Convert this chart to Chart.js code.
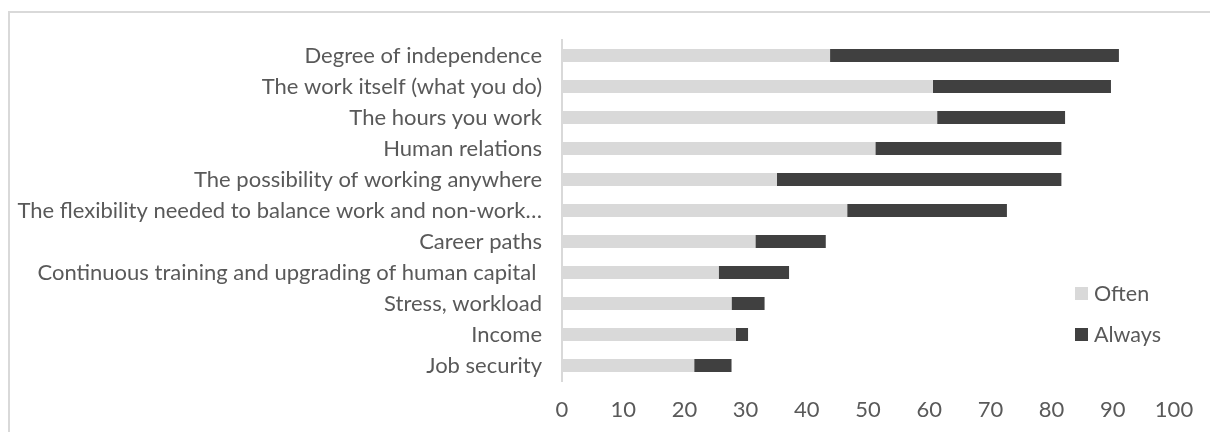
<!DOCTYPE html>
<html>
<head>
<meta charset="utf-8">
<script src="https://cdn.jsdelivr.net/npm/chart.js@4.4.1/dist/chart.umd.min.js"></script>
<style>
  html, body { margin: 0; padding: 0; background: #fff; }
  body { width: 1210px; height: 432px; overflow: hidden; position: relative; }
  #frame { position: absolute; left: 8px; top: 11px; width: 1300px; height: 500px;
           border-top: 2px solid #d9d9d9; border-left: 2px solid #d9d9d9; box-sizing: border-box; }
  #wrap { position: absolute; left: 0; top: 0; width: 1210px; height: 432px; }
  #legend { position: absolute; left: 1075px; top: 281px; font-family: Lato, sans-serif;
            font-size: 21.5px; color: #595959; }
  #legend div { display: flex; align-items: center; height: 24px; margin-bottom: 17px; }
  #legend span.sw { display: inline-block; width: 13px; height: 13px; margin-right: 6px; }
</style>
</head>
<body>
<div id="frame"></div>
<div id="wrap"><canvas id="c" width="1210" height="432"></canvas></div>
<div id="legend"></div>
<script>
// Survey items, top to bottom
const categories = [
  "Degree of independence",
  "The work itself (what you do)",
  "The hours you work",
  "Human relations",
  "The possibility of working anywhere",
  "The flexibility needed to balance work and non-work\u2026",
  "Career paths",
  "Continuous training and upgrading of human capital ",
  "Stress, workload",
  "Income",
  "Job security"
];
// Share of respondents (%)
const often  = [43.8, 60.6, 61.3, 51.2, 35.1, 46.6, 31.6, 25.6, 27.7, 28.4, 21.6];
const always = [47.2, 29.1, 20.9, 30.4, 46.5, 26.1, 11.5, 11.5, 5.4, 2.0, 6.1];
const xTicks = [0, 10, 20, 30, 40, 50, 60, 70, 80, 90, 100];

const seriesNames = ["Often", "Always"];
const seriesColors = ["#d9d9d9", "#404040"];
const textColor = "#595959";
const fontFamily = "Lato, sans-serif";

const chart = new Chart(document.getElementById("c"), {
  type: "bar",
  data: {
    labels: categories,
    datasets: [
      { label: seriesNames[0], data: often, backgroundColor: seriesColors[0] },
      { label: seriesNames[1], data: always, backgroundColor: seriesColors[1] }
    ]
  },
  options: {
    indexAxis: "y",
    responsive: false,
    animation: false,
    devicePixelRatio: 1,
    layout: { padding: { top: 40, right: 36, bottom: 0, left: 0 } },
    datasets: { bar: { barPercentage: 0.42, categoryPercentage: 1 } },
    plugins: { legend: { display: false }, tooltip: { enabled: false } },
    scales: {
      x: {
        stacked: true,
        min: 0, max: 100,
        afterBuildTicks: (s) => { s.ticks = xTicks.map(v => ({ value: v })); },
        afterFit: (s) => { s.height = 51; },
        grid: { display: false, drawTicks: false },
        border: { display: false },
        ticks: { color: textColor, padding: 16, font: { family: fontFamily, size: 22 } }
      },
      y: {
        stacked: true,
        afterFit: (s) => { s.width = 562; },
        grid: { display: false, drawTicks: false },
        border: { display: true, color: "#d9d9d9", width: 2 },
        ticks: { color: textColor, padding: 20, autoSkip: false, font: { family: fontFamily, size: 22 } }
      }
    }
  }
});

// Legend entries
const lg = document.getElementById("legend");
seriesNames.forEach((n, i) => {
  const row = document.createElement("div");
  const sw = document.createElement("span");
  sw.className = "sw";
  sw.style.background = seriesColors[i];
  row.appendChild(sw);
  row.appendChild(document.createTextNode(n));
  lg.appendChild(row);
});
</script>
</body>
</html>
